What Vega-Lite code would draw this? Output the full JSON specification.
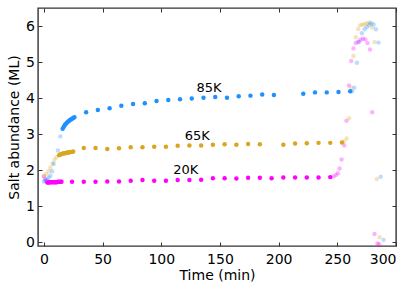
{
  "$schema": "https://vega.github.io/schema/vega-lite/v6.json",
  "width": 358,
  "height": 238,
  "autosize": {"type": "none"},
  "padding": {"left": 38, "top": 8, "right": 20, "bottom": 44},
  "background": "white",
  "config": {
    "view": {"stroke": "#333", "strokeWidth": 1.4},
    "font": "DejaVu Sans",
    "axis": {
      "grid": false,
      "domain": false,
      "tickColor": "#333",
      "tickSize": -4,
      "tickWidth": 1,
      "labelFontSize": 14,
      "titleFontSize": 14,
      "labelColor": "black",
      "titleColor": "black",
      "titleFontWeight": "normal",
      "labelFont": "DejaVu Sans",
      "titleFont": "DejaVu Sans"
    }
  },
  "datasets": {
    "points": [
      {"t":0,"v":1.83,"s":"20K","p":"edge"},{"t":1,"v":1.76,"s":"20K","p":"edge"},{"t":2,"v":1.70,"s":"20K","p":"edge"},
      {"t":246.8,"v":1.83,"s":"20K","p":"edge"},{"t":248.8,"v":1.87,"s":"20K","p":"edge"},{"t":250.5,"v":1.92,"s":"20K","p":"edge"},{"t":251.9,"v":2.05,"s":"20K","p":"edge"},{"t":253.6,"v":2.30,"s":"20K","p":"edge"},{"t":255.9,"v":2.69,"s":"20K","p":"edge"},{"t":257.8,"v":3.37,"s":"20K","p":"edge"},{"t":259.9,"v":4.35,"s":"20K","p":"edge"},{"t":261.8,"v":5.03,"s":"20K","p":"edge"},{"t":263.8,"v":5.38,"s":"20K","p":"edge"},{"t":265.7,"v":5.53,"s":"20K","p":"edge"},{"t":267.7,"v":5.56,"s":"20K","p":"edge"},{"t":269.7,"v":5.62,"s":"20K","p":"edge"},{"t":271.8,"v":5.65,"s":"20K","p":"edge"},{"t":273.8,"v":5.63,"s":"20K","p":"edge"},{"t":275.7,"v":5.53,"s":"20K","p":"edge"},{"t":277.8,"v":5.35,"s":"20K","p":"edge"},{"t":279.7,"v":3.61,"s":"20K","p":"edge"},{"t":281.7,"v":0.23,"s":"20K","p":"edge"},{"t":284.2,"v":-0.03,"s":"20K","p":"edge"},{"t":285.7,"v":-0.05,"s":"20K","p":"edge"},
      {"t":0,"v":1.85,"s":"65K","p":"edge"},{"t":2,"v":1.90,"s":"65K","p":"edge"},{"t":4,"v":1.97,"s":"65K","p":"edge"},{"t":5.5,"v":2.07,"s":"65K","p":"edge"},{"t":7.4,"v":2.18,"s":"65K","p":"edge"},{"t":9,"v":2.29,"s":"65K","p":"edge"},{"t":10.6,"v":2.36,"s":"65K","p":"edge"},
      {"t":255.6,"v":2.80,"s":"65K","p":"edge"},{"t":257.9,"v":2.88,"s":"65K","p":"edge"},{"t":260,"v":3.44,"s":"65K","p":"edge"},{"t":261.8,"v":4.29,"s":"65K","p":"edge"},{"t":263.8,"v":5.17,"s":"65K","p":"edge"},{"t":265.8,"v":5.69,"s":"65K","p":"edge"},{"t":267.8,"v":5.92,"s":"65K","p":"edge"},{"t":269.5,"v":6.02,"s":"65K","p":"edge"},{"t":271.5,"v":6.04,"s":"65K","p":"edge"},{"t":273.5,"v":6.05,"s":"65K","p":"edge"},{"t":275.5,"v":6.08,"s":"65K","p":"edge"},{"t":277.5,"v":6.10,"s":"65K","p":"edge"},{"t":279.7,"v":5.96,"s":"65K","p":"edge"},{"t":281.7,"v":5.56,"s":"65K","p":"edge"},{"t":283.7,"v":1.76,"s":"65K","p":"edge"},{"t":286,"v":0.14,"s":"65K","p":"edge"},
      {"t":0,"v":1.69,"s":"85K","p":"edge"},{"t":1.3,"v":1.71,"s":"85K","p":"edge"},{"t":2.6,"v":1.74,"s":"85K","p":"edge"},{"t":4,"v":1.79,"s":"85K","p":"edge"},{"t":5.5,"v":1.85,"s":"85K","p":"edge"},{"t":7,"v":1.97,"s":"85K","p":"edge"},{"t":8.3,"v":2.18,"s":"85K","p":"edge"},{"t":12,"v":2.55,"s":"85K","p":"edge"},{"t":14,"v":2.94,"s":"85K","p":"edge"},
      {"t":262.6,"v":4.19,"s":"85K","p":"edge"},{"t":264.5,"v":4.29,"s":"85K","p":"edge"},{"t":266.7,"v":4.98,"s":"85K","p":"edge"},{"t":268.5,"v":5.56,"s":"85K","p":"edge"},{"t":270.9,"v":5.80,"s":"85K","p":"edge"},{"t":273.2,"v":5.91,"s":"85K","p":"edge"},{"t":275.2,"v":5.97,"s":"85K","p":"edge"},{"t":277.2,"v":6.03,"s":"85K","p":"edge"},{"t":278.9,"v":6.08,"s":"85K","p":"edge"},{"t":280.9,"v":6.04,"s":"85K","p":"edge"},{"t":282.9,"v":5.91,"s":"85K","p":"edge"},{"t":285.1,"v":5.54,"s":"85K","p":"edge"},{"t":287,"v":1.82,"s":"85K","p":"edge"},{"t":289.4,"v":0.07,"s":"85K","p":"edge"},
      {"t":3,"v":1.66,"s":"20K","p":"main"},{"t":4,"v":1.66,"s":"20K","p":"main"},{"t":5,"v":1.67,"s":"20K","p":"main"},{"t":6,"v":1.67,"s":"20K","p":"main"},{"t":7,"v":1.67,"s":"20K","p":"main"},{"t":8,"v":1.67,"s":"20K","p":"main"},{"t":9,"v":1.67,"s":"20K","p":"main"},{"t":10,"v":1.67,"s":"20K","p":"main"},{"t":11,"v":1.67,"s":"20K","p":"main"},{"t":12,"v":1.68,"s":"20K","p":"main"},{"t":13,"v":1.68,"s":"20K","p":"main"},{"t":14,"v":1.68,"s":"20K","p":"main"},{"t":15,"v":1.68,"s":"20K","p":"main"},
      {"t":24,"v":1.68,"s":"20K","p":"main"},{"t":34,"v":1.68,"s":"20K","p":"main"},{"t":44,"v":1.68,"s":"20K","p":"main"},{"t":54,"v":1.69,"s":"20K","p":"main"},{"t":64,"v":1.69,"s":"20K","p":"main"},{"t":74,"v":1.71,"s":"20K","p":"main"},{"t":84,"v":1.73,"s":"20K","p":"main"},{"t":94,"v":1.71,"s":"20K","p":"main"},{"t":104,"v":1.71,"s":"20K","p":"main"},{"t":114,"v":1.73,"s":"20K","p":"main"},{"t":124,"v":1.73,"s":"20K","p":"main"},{"t":134,"v":1.74,"s":"20K","p":"main"},{"t":144,"v":1.78,"s":"20K","p":"main"},{"t":154,"v":1.78,"s":"20K","p":"main"},{"t":164,"v":1.77,"s":"20K","p":"main"},{"t":174,"v":1.79,"s":"20K","p":"main"},{"t":184,"v":1.79,"s":"20K","p":"main"},{"t":194,"v":1.78,"s":"20K","p":"main"},{"t":204,"v":1.80,"s":"20K","p":"main"},{"t":214,"v":1.80,"s":"20K","p":"main"},{"t":224,"v":1.80,"s":"20K","p":"main"},{"t":234,"v":1.80,"s":"20K","p":"main"},{"t":244,"v":1.81,"s":"20K","p":"main"},
      {"t":13,"v":2.42,"s":"65K","p":"main"},{"t":14,"v":2.44,"s":"65K","p":"main"},{"t":15,"v":2.45,"s":"65K","p":"main"},{"t":16,"v":2.46,"s":"65K","p":"main"},{"t":17,"v":2.47,"s":"65K","p":"main"},{"t":18,"v":2.47,"s":"65K","p":"main"},{"t":19,"v":2.48,"s":"65K","p":"main"},{"t":20,"v":2.49,"s":"65K","p":"main"},{"t":21,"v":2.49,"s":"65K","p":"main"},{"t":22,"v":2.50,"s":"65K","p":"main"},{"t":23,"v":2.51,"s":"65K","p":"main"},{"t":24,"v":2.51,"s":"65K","p":"main"},{"t":25,"v":2.52,"s":"65K","p":"main"},
      {"t":34,"v":2.62,"s":"65K","p":"main"},{"t":44,"v":2.62,"s":"65K","p":"main"},{"t":54,"v":2.59,"s":"65K","p":"main"},{"t":64,"v":2.61,"s":"65K","p":"main"},{"t":74,"v":2.64,"s":"65K","p":"main"},{"t":84,"v":2.64,"s":"65K","p":"main"},{"t":94,"v":2.65,"s":"65K","p":"main"},{"t":104,"v":2.65,"s":"65K","p":"main"},{"t":114,"v":2.68,"s":"65K","p":"main"},{"t":124,"v":2.69,"s":"65K","p":"main"},{"t":134,"v":2.69,"s":"65K","p":"main"},{"t":144,"v":2.71,"s":"65K","p":"main"},{"t":154,"v":2.72,"s":"65K","p":"main"},{"t":164,"v":2.71,"s":"65K","p":"main"},{"t":174,"v":2.73,"s":"65K","p":"main"},{"t":184,"v":2.72,"s":"65K","p":"main"},{"t":204,"v":2.71,"s":"65K","p":"main"},{"t":214,"v":2.74,"s":"65K","p":"main"},{"t":224,"v":2.75,"s":"65K","p":"main"},{"t":234,"v":2.76,"s":"65K","p":"main"},{"t":244,"v":2.76,"s":"65K","p":"main"},{"t":254,"v":2.77,"s":"65K","p":"main"},
      {"t":16,"v":3.15,"s":"85K","p":"main"},{"t":17,"v":3.21,"s":"85K","p":"main"},{"t":18,"v":3.26,"s":"85K","p":"main"},{"t":19,"v":3.30,"s":"85K","p":"main"},{"t":20,"v":3.33,"s":"85K","p":"main"},{"t":21,"v":3.36,"s":"85K","p":"main"},{"t":22,"v":3.39,"s":"85K","p":"main"},{"t":23,"v":3.41,"s":"85K","p":"main"},{"t":24,"v":3.43,"s":"85K","p":"main"},{"t":25,"v":3.45,"s":"85K","p":"main"},{"t":26,"v":3.47,"s":"85K","p":"main"},
      {"t":36,"v":3.61,"s":"85K","p":"main"},{"t":46,"v":3.67,"s":"85K","p":"main"},{"t":56,"v":3.72,"s":"85K","p":"main"},{"t":66,"v":3.79,"s":"85K","p":"main"},{"t":76,"v":3.84,"s":"85K","p":"main"},{"t":86,"v":3.86,"s":"85K","p":"main"},{"t":96,"v":3.92,"s":"85K","p":"main"},{"t":106,"v":3.95,"s":"85K","p":"main"},{"t":116,"v":3.97,"s":"85K","p":"main"},{"t":126,"v":3.99,"s":"85K","p":"main"},{"t":136,"v":4.01,"s":"85K","p":"main"},{"t":146,"v":4.03,"s":"85K","p":"main"},{"t":156,"v":4.01,"s":"85K","p":"main"},{"t":166,"v":4.05,"s":"85K","p":"main"},{"t":176,"v":4.07,"s":"85K","p":"main"},{"t":186,"v":4.10,"s":"85K","p":"main"},{"t":196,"v":4.09,"s":"85K","p":"main"},{"t":221,"v":4.12,"s":"85K","p":"main"},{"t":231,"v":4.16,"s":"85K","p":"main"},{"t":241,"v":4.16,"s":"85K","p":"main"},{"t":251,"v":4.17,"s":"85K","p":"main"},{"t":261,"v":4.19,"s":"85K","p":"main"}
    ],
    "labels": [
      {"t": 140.7, "v": 4.27, "label": "85K"},
      {"t": 130.7, "v": 2.96, "label": "65K"},
      {"t": 120.9, "v": 2.0, "label": "20K"}
    ]
  },
  "layer": [
    {
      "data": {"name": "points"},
      "mark": {"type": "circle", "size": 20},
      "encoding": {
        "x": {"field": "t", "type": "quantitative", "scale": {"domain": [-5, 300], "nice": false, "zero": false},
              "axis": {"orient": "bottom", "values": [0, 50, 100, 150, 200, 250, 300], "title": "Time (min)", "labelPadding": 10, "titlePadding": 2}},
        "y": {"field": "v", "type": "quantitative", "scale": {"domain": [-0.1, 6.5], "nice": false, "zero": false},
              "axis": {"orient": "left", "values": [0, 1, 2, 3, 4, 5, 6], "title": "Salt abundance (ML)", "labelPadding": 7.5, "titlePadding": 4}},
        "color": {"field": "s", "type": "nominal", "scale": {"domain": ["85K", "65K", "20K"], "range": ["#1E90FF", "#DAA520", "#FF00FF"]}, "legend": null},
        "opacity": {"field": "p", "type": "nominal", "scale": {"domain": ["main", "edge"], "range": [1, 0.3]}, "legend": null}
      }
    },
    {
      "data": {"name": "labels"},
      "mark": {"type": "text", "fontSize": 13, "font": "DejaVu Sans", "color": "black", "align": "center", "baseline": "middle"},
      "encoding": {
        "x": {"field": "t", "type": "quantitative", "scale": {"domain": [-5, 300], "nice": false, "zero": false},
              "axis": {"orient": "top", "values": [0, 50, 100, 150, 200, 250, 300], "labels": false, "title": null}},
        "y": {"field": "v", "type": "quantitative", "scale": {"domain": [-0.1, 6.5], "nice": false, "zero": false},
              "axis": {"orient": "right", "values": [0, 1, 2, 3, 4, 5, 6], "labels": false, "title": null}},
        "text": {"field": "label"}
      }
    }
  ],
  "resolve": {"axis": {"x": "independent", "y": "independent"}}
}
